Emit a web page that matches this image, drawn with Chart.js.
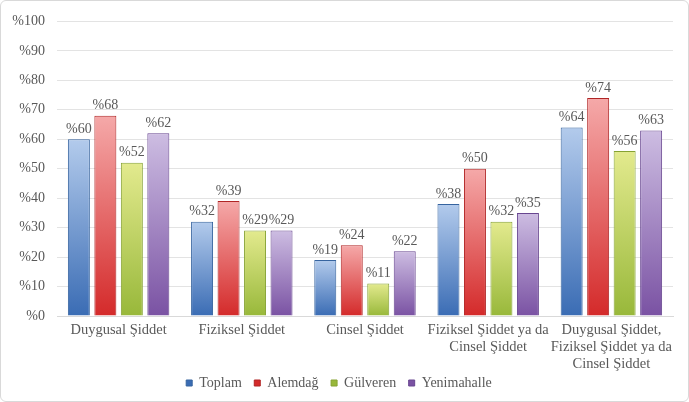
<!DOCTYPE html>
<html>
<head>
<meta charset="utf-8">
<script src="https://cdn.jsdelivr.net/npm/chart.js@4"></script>
<style>
  html, body { margin: 0; padding: 0; background: #ffffff; }
  #wrap { position: relative; width: 689px; height: 402px; box-sizing: border-box; border: 1px solid #d9d9d9; border-radius: 6px; }
</style>
</head>
<body>
<div id="wrap"><canvas id="chart"></canvas></div>
<script>
// categories and series
const categories = [
    'Duygusal Şiddet',
    'Fiziksel Şiddet',
    'Cinsel Şiddet',
    ['Fiziksel Şiddet ya da', 'Cinsel Şiddet'],
    ['Duygusal Şiddet,', 'Fiziksel Şiddet ya da', 'Cinsel Şiddet']
];
const seriesNames = ['Toplam', 'Alemdağ', 'Gülveren', 'Yenimahalle'];
const toplam      = [60, 32, 19, 38, 64];
const alemdag     = [68, 39, 24, 50, 74];
const gulveren    = [52, 29, 11, 32, 56];
const yenimahalle = [62, 29, 22, 35, 63];
const yTicks = [0, 10, 20, 30, 40, 50, 60, 70, 80, 90, 100];

// light (top) / dark (bottom) shades per series
const palette = [
    { light: '#b3cbec', dark: '#3a6cb4', edge: '#36649f' },
    { light: '#f5a9a9', dark: '#d42a2a', edge: '#b02525' },
    { light: '#e3ea8e', dark: '#98b83a', edge: '#86a233' },
    { light: '#cdbde2', dark: '#7a52a3', edge: '#684690' }
];

const FONT = "'Liberation Serif', 'DejaVu Serif', serif";
const TEXT = '#595959';

function barFill(idx) {
    return function (ctx) {
        const chart = ctx.chart;
        const area = chart.chartArea;
        const c = palette[idx];
        if (!area || ctx.parsed == null) return c.dark;
        const top = chart.scales.y.getPixelForValue(ctx.parsed.y);
        const g = chart.ctx.createLinearGradient(0, top, 0, area.bottom);
        g.addColorStop(0, c.light);
        g.addColorStop(1, c.dark);
        return g;
    };
}

// value labels above bars
const valueLabels = {
    id: 'valueLabels',
    afterDatasetsDraw(chart) {
        const ctx = chart.ctx;
        ctx.save();
        ctx.font = '14px ' + FONT;
        ctx.fillStyle = TEXT;
        ctx.textAlign = 'center';
        ctx.textBaseline = 'bottom';
        chart.data.datasets.forEach((ds, i) => {
            chart.getDatasetMeta(i).data.forEach((bar, j) => {
                ctx.fillText('%' + ds.data[j], bar.x, bar.y - 3);
            });
        });
        ctx.restore();
    }
};

const series = [toplam, alemdag, gulveren, yenimahalle];

new Chart(document.getElementById('chart'), {
    type: 'bar',
    data: {
        labels: categories,
        datasets: series.map((data, i) => ({
            label: seriesNames[i],
            data,
            backgroundColor: barFill(i),
            borderColor: palette[i].edge,
            borderWidth: 1,
            barPercentage: 0.83,
            categoryPercentage: 0.86
        }))
    },
    options: {
        responsive: true,
        maintainAspectRatio: false,
        animation: false,
        layout: { padding: { top: 12, right: 15, left: 4, bottom: 1 } },
        plugins: {
            legend: {
                position: 'bottom',
                labels: {
                    font: { family: FONT, size: 14 },
                    color: TEXT,
                    boxWidth: 6,
                    boxHeight: 6,
                    padding: 2,
                    // small padding keeps the legend close to the axis; spaces give the gap between items
                    generateLabels(chart) {
                        const n = chart.data.datasets.length;
                        return chart.data.datasets.map((ds, i) => ({
                            text: i < n - 1 ? ds.label + '   ' : ds.label,
                            fillStyle: palette[i].dark,
                            strokeStyle: palette[i].edge,
                            lineWidth: 1,
                            fontColor: TEXT,
                            datasetIndex: i
                        }));
                    }
                }
            },
            tooltip: { enabled: false }
        },
        scales: {
            x: {
                grid: { display: false, drawTicks: false },
                border: { color: '#d9d9d9' },
                afterFit(scale) { scale.height = 58; },
                ticks: {
                    font: { family: FONT, size: 14.5, lineHeight: 1.17 },
                    color: TEXT,
                    padding: 6,
                    maxRotation: 0,
                    autoSkip: false
                }
            },
            y: {
                min: 0,
                max: 100,
                afterBuildTicks(scale) { scale.ticks = yTicks.map(v => ({ value: v })); },
                afterFit(scale) { scale.width = 52; },
                grid: { color: '#e3e3e3', drawTicks: false },
                border: { display: false },
                ticks: {
                    font: { family: FONT, size: 14 },
                    color: TEXT,
                    padding: 12,
                    callback: v => '%' + v
                }
            }
        }
    },
    plugins: [valueLabels]
});
</script>
</body>
</html>
